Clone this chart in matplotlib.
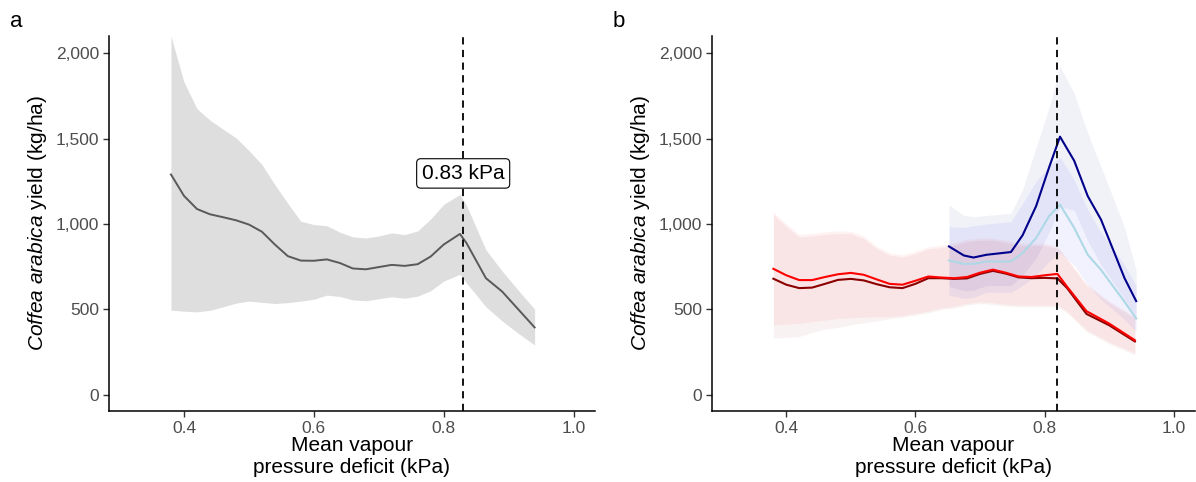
import matplotlib
matplotlib.use("Agg")
from matplotlib import pyplot as plt
from matplotlib.ticker import FuncFormatter

plt.rcParams['font.family'] = ['Liberation Sans', 'DejaVu Sans']
plt.rcParams['mathtext.fontset'] = 'custom'
plt.rcParams['mathtext.rm'] = 'Liberation Sans'
plt.rcParams['mathtext.it'] = 'Liberation Sans:italic'

# panel a : overall response
vpd_a = [0.38, 0.40, 0.42, 0.44, 0.46, 0.48, 0.50, 0.52, 0.54, 0.56, 0.58, 0.60, 0.62, 0.64,
         0.66, 0.68, 0.70, 0.72, 0.74, 0.76, 0.78, 0.80, 0.825, 0.835, 0.865, 0.89, 0.915, 0.94]
yield_a = [1290, 1165, 1088, 1057, 1040, 1022, 997, 955, 880, 812, 786, 785, 793, 772,
           740, 735, 748, 761, 755, 765, 810, 880, 942, 889, 683, 605, 500, 395]
upper_a = [2100, 1831, 1675, 1608, 1555, 1505, 1430, 1348, 1230, 1120, 1016, 997, 990, 952,
           925, 918, 930, 948, 938, 960, 1030, 1115, 1173, 1110, 849, 725, 612, 502]
lower_a = [496, 490, 486, 495, 515, 537, 549, 542, 535, 540, 549, 560, 584, 576,
           556, 551, 563, 574, 566, 578, 610, 666, 706, 655, 516, 433, 360, 292]
opt_a = 0.83

# panel b : red scenarios
vpd_b = [0.38, 0.40, 0.42, 0.44, 0.46, 0.48, 0.50, 0.52, 0.54, 0.56, 0.58, 0.60, 0.62, 0.64,
         0.66, 0.68, 0.70, 0.72, 0.74, 0.76, 0.78, 0.80, 0.82, 0.835, 0.865, 0.90, 0.94]
red = [738, 700, 672, 672, 690, 706, 714, 703, 676, 650, 645, 668, 693, 687,
       683, 690, 715, 733, 715, 693, 690, 700, 708, 633, 490, 418, 320]
red_up = [1070, 1000, 940, 945, 955, 960, 958, 930, 870, 832, 820, 840, 868, 875,
          890, 910, 917, 917, 905, 888, 887, 887, 870, 800, 650, 550, 458]
red_lo = [410, 414, 419, 428, 438, 447, 452, 455, 457, 458, 465, 477, 490, 510,
          518, 535, 545, 540, 530, 526, 526, 526, 526, 490, 380, 310, 244]
dred = [680, 645, 625, 628, 650, 673, 679, 670, 648, 630, 625, 650, 683, 683,
        679, 682, 708, 726, 710, 688, 683, 685, 682, 625, 474, 408, 313]
dred_up = [1055, 985, 925, 930, 940, 945, 943, 915, 855, 818, 806, 826, 855, 862,
           877, 897, 905, 905, 892, 875, 874, 874, 858, 790, 640, 540, 450]
dred_lo = [332, 336, 342, 365, 385, 395, 410, 422, 432, 445, 455, 467, 480, 500,
           508, 525, 535, 530, 520, 516, 516, 516, 516, 480, 370, 300, 235]

# panel b : blue scenarios
vpd_c = [0.652, 0.675, 0.69, 0.71, 0.748, 0.766, 0.787, 0.807, 0.824, 0.846, 0.867, 0.8875, 0.924, 0.942]
navy = [869, 816, 804, 820, 836, 934, 1105, 1330, 1511, 1370, 1163, 1026, 683, 549]
navy_up = [1111, 1050, 1043, 1050, 1063, 1200, 1450, 1680, 1921, 1765, 1531, 1336, 980, 725]
navy_lo = [634, 610, 612, 640, 640, 700, 800, 950, 1100, 1080, 900, 760, 560, 450]
lblue = [787, 767, 767, 781, 781, 830, 918, 1046, 1114, 977, 820, 732, 545, 447]
lblue_up = [985, 980, 990, 1000, 1014, 1120, 1250, 1336, 1394, 1258, 1082, 950, 760, 640]
lblue_lo = [585, 565, 570, 600, 600, 640, 700, 780, 830, 760, 640, 560, 440, 370]
opt_b = 0.82

fig = plt.figure(figsize=(11.96, 4.82), dpi=100)
ax_a = fig.add_axes([0.0911, 0.1473, 0.4064, 0.7780])
ax_b = fig.add_axes([0.5951, 0.1473, 0.4040, 0.7780])

ax_a.fill_between(vpd_a, lower_a, upper_a, color='#dedede', lw=0)
ax_a.plot(vpd_a, yield_a, color='#595959', lw=1.4)
ax_a.axvline(opt_a, color='black', ls=(0, (4, 3)), lw=1.3)
ax_a.text(opt_a, 1296, '0.83 kPa', ha='center', va='center', fontsize=15,
          bbox=dict(boxstyle='round,pad=0.25,rounding_size=0.2', fc='white', ec='black', lw=0.8))

ax_b.fill_between(vpd_b, red_lo, red_up, color='red', alpha=0.05, lw=0)
ax_b.fill_between(vpd_b, dred_lo, dred_up, color='darkred', alpha=0.05, lw=0)
ax_b.fill_between(vpd_c, navy_lo, navy_up, color='navy', alpha=0.055, lw=0)
ax_b.fill_between(vpd_c, lblue_lo, lblue_up, color='blue', alpha=0.05, lw=0)
ax_b.plot(vpd_b, dred, color='darkred', lw=1.5)
ax_b.plot(vpd_b, red, color='red', lw=1.5)
ax_b.plot(vpd_c, lblue, color='lightblue', lw=1.5)
ax_b.plot(vpd_c, navy, color='darkblue', lw=1.5)
ax_b.axvline(opt_b, color='black', ls=(0, (4, 3)), lw=1.3)

for ax in (ax_a, ax_b):
    ax.set_xlim(0.2845, 1.033)
    ax.set_ylim(-94, 2100)
    ax.set_xticks([0.4, 0.6, 0.8, 1.0])
    ax.set_yticks([0, 500, 1000, 1500, 2000])
    ax.yaxis.set_major_formatter(FuncFormatter(lambda v, p: f'{int(v):,}'))
    ax.xaxis.set_major_formatter(FuncFormatter(lambda v, p: f'{v:.1f}'))
    for s in ('top', 'right'):
        ax.spines[s].set_visible(False)
    for s in ('left', 'bottom'):
        ax.spines[s].set_linewidth(1.1)
    ax.tick_params(length=4, width=1, color='#333333', labelcolor='#4d4d4d', labelsize=12.5, pad=3)
    ax.set_xlabel('Mean vapour\npressure deficit (kPa)', fontsize=15, linespacing=1.2, labelpad=0)
    ax.set_ylabel(r'$\it{Coffea\ arabica}$ yield (kg/ha)', fontsize=15, labelpad=5)

fig.text(0.008, 0.955, 'a', fontsize=16, va='center')
fig.text(0.512, 0.955, 'b', fontsize=16, va='center')

fig.savefig('out.png', dpi=100)
